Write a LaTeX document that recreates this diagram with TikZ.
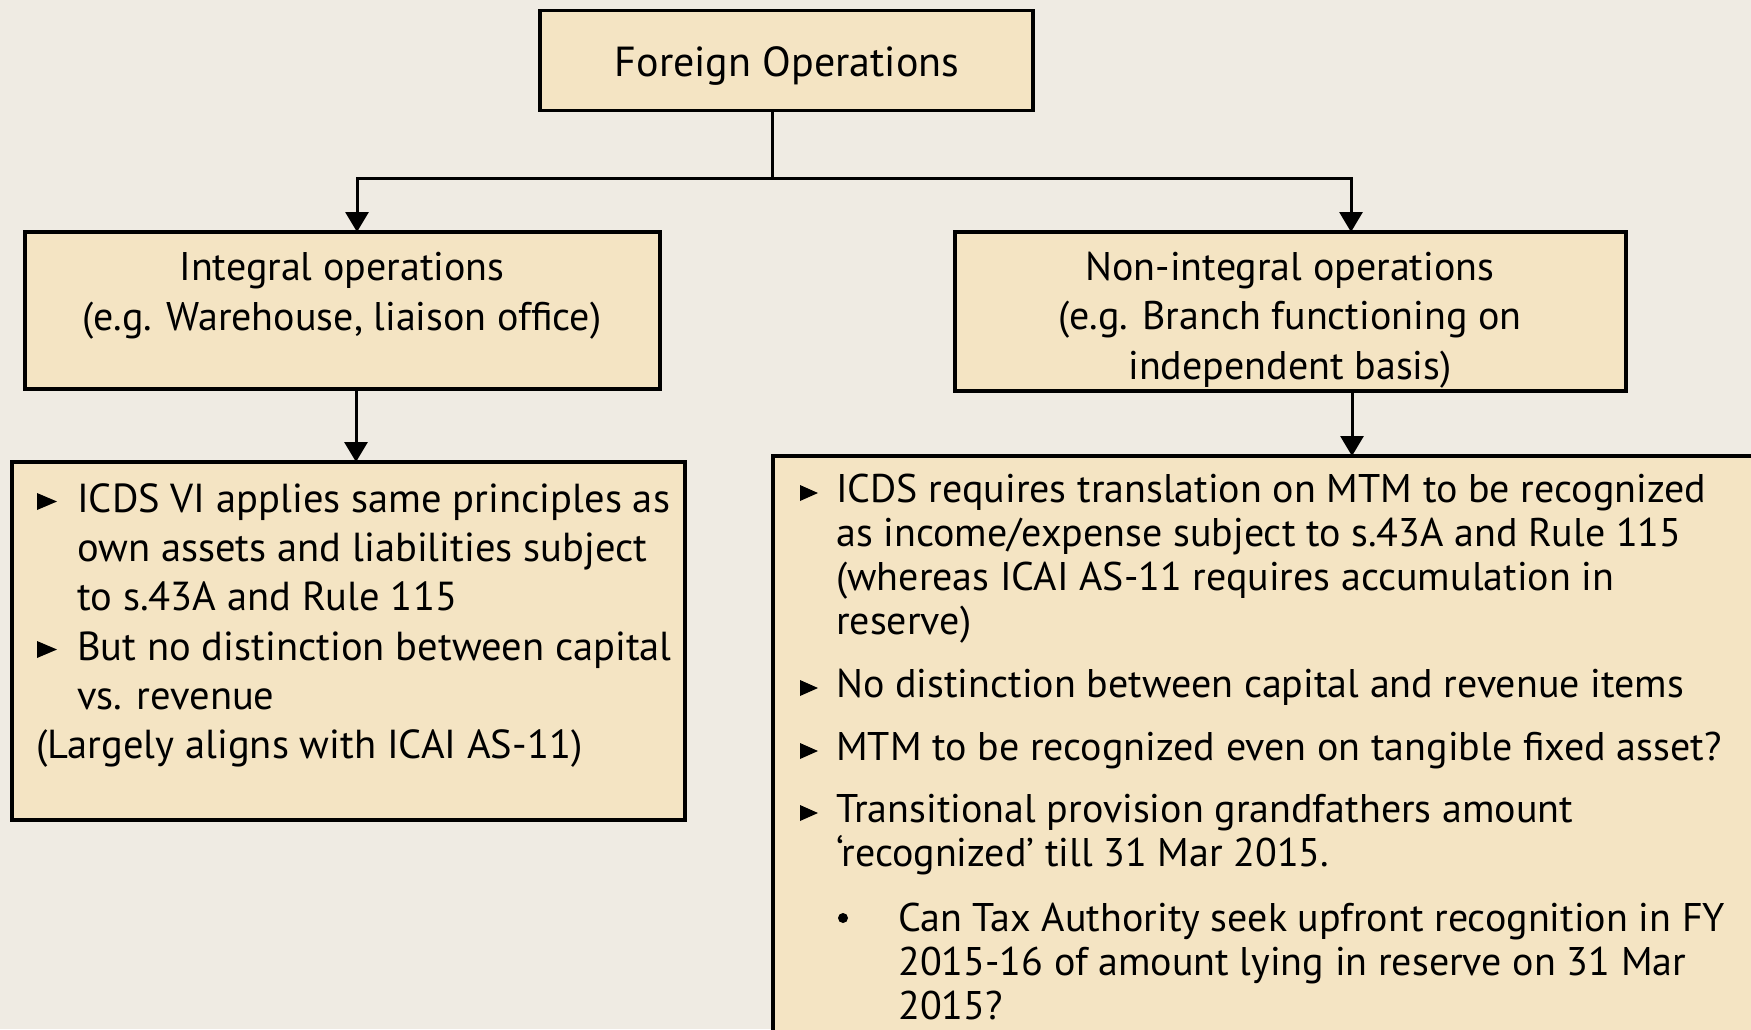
\documentclass[tikz,border=0pt]{standalone}
\usepackage{fontspec}
\setmainfont{PT Sans}
\usetikzlibrary{arrows.meta}
\definecolor{pagebg}{RGB}{239,235,227}
\definecolor{boxfill}{RGB}{244,228,195}
\begin{document}
\begin{tikzpicture}[x=1pt,y=-1pt,
  box/.style={draw=black,line width=3.5pt,fill=boxfill,inner sep=0pt,outer sep=0pt},
  link/.style={line width=3pt},
  tip/.style={-{Triangle[width=23pt,length=20pt]}},
  head/.style={inner sep=0pt,anchor=base,align=center,font=\fontsize{40}{49.5}\selectfont},
  title/.style={inner sep=0pt,anchor=base,font=\fontsize{42}{50}\selectfont},
  ltxt/.style={inner sep=0pt,anchor=base west,align=left,font=\fontsize{40.5}{49}\selectfont},
  rtxt/.style={inner sep=0pt,anchor=base west,align=left,font=\fontsize{40}{44}\selectfont},
  tri/.style={fill=black}
]
\useasboundingbox (0,0) rectangle (1751,1029);
\clip (0,0) rectangle (1751,1029);
\fill[pagebg] (0,0) rectangle (1751,1029);

% boxes
\node[box,minimum width=493pt,minimum height=100pt] (top) at (786.5,60.5) {};
\node[box,minimum width=635pt,minimum height=157pt] (integ) at (342.5,310.5) {};
\node[box,minimum width=671pt,minimum height=159pt] (nonint) at (1290.5,311.5) {};
\node[box,minimum width=673pt,minimum height=358pt] (ldet) at (348.5,641) {};
\node[box,minimum width=1027pt,minimum height=624pt] (rdet) at (1286.5,768) {};

% box headings (anchored at the baseline of the last line)
\node[title] (ttop) at (787,76) {Foreign Operations};
\node[head] (tinteg) at (342,330) {Integral operations\\(e.g. Warehouse, liaison office)};
\node[head] (tnon) at (1290,379) {Non-integral operations\\(e.g. Branch functioning on\\independent basis)};

% connectors
\coordinate (j) at (772,178);
\coordinate (lx) at (357,0);
\coordinate (rx) at (1351,0);
\coordinate (lx2) at (356,0);
\coordinate (rx2) at (1352,0);
\draw[link] (top.south -| j) -- (j);
\draw[link,tip] (j) -| (integ.north -| lx);
\draw[link,tip] (j) -| (nonint.north -| rx);
\draw[link,tip] (integ.south -| lx2) -- (ldet.north -| lx2);
\draw[link,tip] (nonint.south -| rx2) -- (rdet.north -| rx2);

% left details (anchored at the baseline of the last line)
\node[ltxt] (l1) at (77,610) {ICDS VI applies same principles as\\own assets and liabilities subject\\to s.43A and Rule 115};
\node[ltxt] (l2) at (77,709) {But no distinction between capital\\vs. revenue};
\node[ltxt] (l3) at (36,758) {(Largely aligns with ICAI AS-11)};
\foreach \n/\up in {l1/98,l2/49}
  \fill[tri] (\n.base west) ++(-40,-2-\up) -- ++(0,-17) -- ++(20,8.5) -- cycle;

% right details (anchored at the baseline of the last line)
\node[rtxt] (r1) at (836,634) {ICDS requires translation on MTM to be recognized\\as income/expense subject to s.43A and Rule 115\\(whereas ICAI AS-11 requires accumulation in\\reserve)};
\node[rtxt] (r2) at (836,697) {No distinction between capital and revenue items};
\node[rtxt] (r3) at (836,760) {MTM to be recognized even on tangible fixed asset?};
\node[rtxt] (r4) at (836,866) {Transitional provision grandfathers amount\\‘recognized’ till 31 Mar 2015.};
\node[rtxt] (r5) at (898,1019) {Can Tax Authority seek upfront recognition in FY\\2015-16 of amount lying in reserve on 31 Mar\\2015?};
\foreach \n/\up in {r1/132,r2/0,r3/0,r4/44}
  \fill[tri] (\n.base west) ++(-36,-1-\up) -- ++(0,-16) -- ++(18,8) -- cycle;
\fill (r5.base west) ++(-55,-101) circle (5);
\end{tikzpicture}
\end{document}
